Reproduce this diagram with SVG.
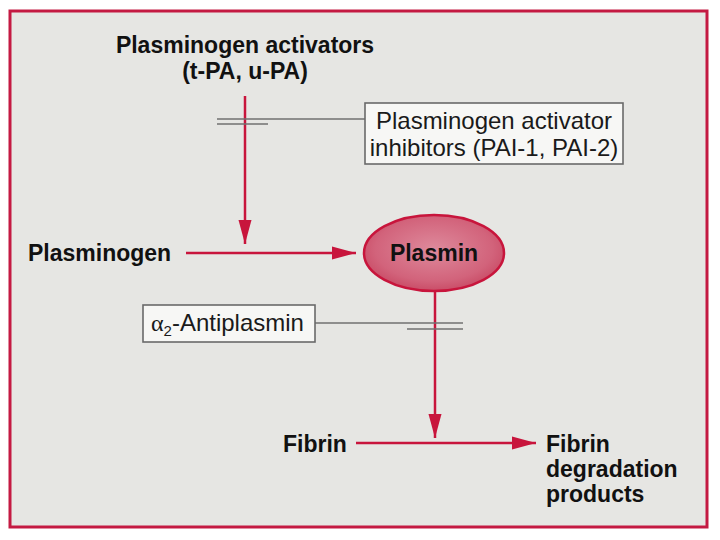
<svg xmlns="http://www.w3.org/2000/svg" width="720" height="540" viewBox="0 0 720 540">
<defs>
<style>
.b{font-family:"Liberation Sans",Arial,sans-serif;font-weight:bold;font-size:23px;fill:#111}
.n{font-family:"Liberation Sans",Arial,sans-serif;font-size:24px;fill:#1a1a1a}
.red{stroke:#c8153c;stroke-width:2.5;fill:none}
.gr{stroke:#707070;stroke-width:1.6;fill:none}
.box{fill:#f7f7f5;stroke:#6a6a6a;stroke-width:1.6}
</style>
<marker id="ah" markerUnits="userSpaceOnUse" markerWidth="26" markerHeight="16" refX="24" refY="8" orient="auto">
<path d="M0,1.5 L24,8 L0,14.5 Z" fill="#c8153c"/>
</marker>
<radialGradient id="pg" cx="0.5" cy="0.45" r="0.6">
<stop offset="0" stop-color="#de8a9c"/>
<stop offset="0.7" stop-color="#d2637b"/>
<stop offset="1" stop-color="#c6445f"/>
</radialGradient>
</defs>
<rect x="0" y="0" width="720" height="540" fill="#ffffff"/>
<rect x="10" y="11" width="697" height="516" fill="#e6e6e3" stroke="#c41a42" stroke-width="3"/>

<g id="connectors">
<line class="red" x1="245" y1="96" x2="245" y2="244" marker-end="url(#ah)"/>
<line class="red" x1="186" y1="253" x2="356" y2="253" marker-end="url(#ah)"/>
<line class="red" x1="435" y1="291" x2="435" y2="438" marker-end="url(#ah)"/>
<line class="red" x1="356" y1="443" x2="536" y2="443" marker-end="url(#ah)"/>
<line class="gr" x1="217" y1="119" x2="365" y2="119"/>
<line class="gr" x1="217" y1="124" x2="268" y2="124"/>
<line class="gr" x1="315" y1="323" x2="463" y2="323"/>
<line class="gr" x1="407" y1="329" x2="463" y2="329"/>
</g>

<g id="pa">
<text class="b" x="245" y="53" text-anchor="middle">Plasminogen activators</text>
<text class="b" x="245" y="79" text-anchor="middle">(t-PA, u-PA)</text>
</g>

<g id="pai">
<rect class="box" x="365" y="103" width="258" height="61"/>
<text class="n" x="494" y="129" text-anchor="middle">Plasminogen activator</text>
<text class="n" x="494" y="156" text-anchor="middle">inhibitors (PAI-1, PAI-2)</text>
</g>

<g id="plasminogen">
<text class="b" x="28" y="261" font-size="24">Plasminogen</text>
</g>

<g id="plasmin">
<ellipse cx="434" cy="253" rx="70" ry="38" fill="url(#pg)" stroke="#c8153c" stroke-width="2.5"/>
<text class="b" x="434" y="261" text-anchor="middle">Plasmin</text>
</g>

<g id="antiplasmin">
<rect class="box" x="143" y="305" width="172" height="37"/>
<text class="n" x="151" y="331"><tspan font-family="'Liberation Serif',serif" font-size="24">α</tspan><tspan font-size="15" dy="5">2</tspan><tspan dy="-5">-Antiplasmin</tspan></text>
</g>

<g id="fibrin">
<text class="b" x="283" y="452">Fibrin</text>
</g>

<g id="fdp">
<text class="b" x="546" y="452">Fibrin</text>
<text class="b" x="546" y="477">degradation</text>
<text class="b" x="546" y="502">products</text>
</g>
</svg>
